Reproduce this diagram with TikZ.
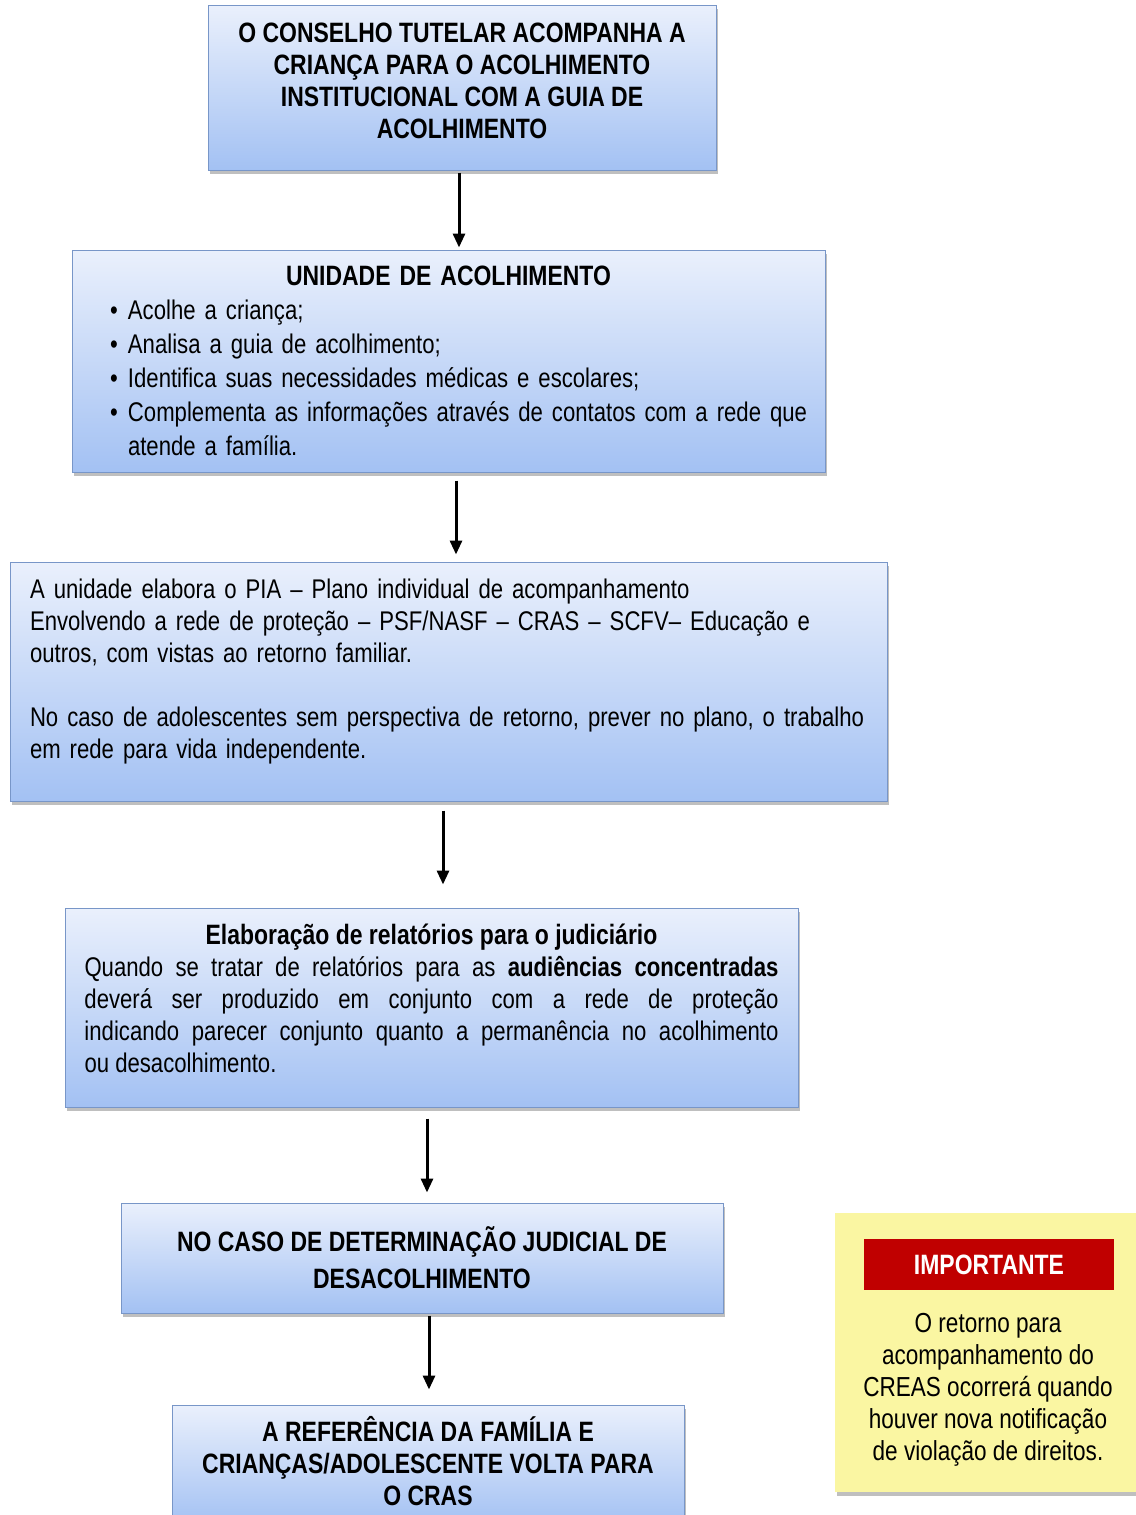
\documentclass[tikz,border=0pt]{standalone}
\usepackage{fontspec}
\setmainfont{Liberation Sans}[FakeStretch=0.82]
\usetikzlibrary{arrows.meta,shadows}

\definecolor{bordaazul}{RGB}{120,150,200}
\definecolor{azulclaro}{RGB}{234,240,252}
\definecolor{azulescuro}{RGB}{163,193,243}
\definecolor{amarelo}{RGB}{250,246,162}
\definecolor{vermelho}{RGB}{192,0,0}

\newcommand{\marcador}{\makebox[18pt][l]{\textbullet}}

\tikzset{
  caixa/.style={draw=bordaazul, line width=1pt, top color=azulclaro, bottom color=azulescuro,
    drop shadow={shadow xshift=2pt, shadow yshift=-4pt, opacity=.5}, inner sep=0pt,
    font=\fontsize{28}{32}\selectfont},
  seta/.style={line width=3pt, -{Triangle[length=14pt,width=12pt]}},
}

\begin{document}
\begin{tikzpicture}[x=1pt, y=-1pt]
        \useasboundingbox (0,0) rectangle (1135,1515);
        % caixas do fluxo
        \node[caixa, minimum width=508pt, minimum height=165pt, align=center] (conselho) at (462,87.5)
            {\bfseries O CONSELHO TUTELAR ACOMPANHA A\\ \bfseries CRIANÇA PARA O ACOLHIMENTO\\
             \bfseries INSTITUCIONAL COM A GUIA DE\\ \bfseries ACOLHIMENTO\\[-18pt]\mbox{}};
        \node[caixa, minimum height=222pt, text width=753pt, align=left,
              font=\fontsize{27}{34}\selectfont] (unidade) at (448.5,361)
            {\makebox[753pt]{\fontsize{28}{34}\selectfont\bfseries UNIDADE DE ACOLHIMENTO}\\
             \hspace*{38pt}\marcador Acolhe a criança;\\
             \hspace*{38pt}\marcador Analisa a guia de acolhimento;\\
             \hspace*{38pt}\marcador Identifica suas necessidades médicas e escolares;\\
             \hspace*{38pt}\marcador Complementa as informações através de contatos com a rede que\\
             \hspace*{56pt}atende a família.};
        \node[caixa, minimum height=239pt, text width=837pt, inner xsep=20pt, align=left,
              font=\fontsize{27}{32}\selectfont] (pia) at (448.5,681.5)
            {A unidade elabora o PIA – Plano individual de acompanhamento\\
             Envolvendo a rede de proteção – PSF/NASF – CRAS – SCFV– Educação e\\
             outros, com vistas ao retorno familiar.\\[32pt]
             No caso de adolescentes sem perspectiva de retorno, prever no plano, o trabalho\\
             em rede para vida independente.\\[-6pt] \mbox{}};
        \node[caixa, minimum height=199pt, text width=694pt, inner xsep=19.5pt, align=justify,
              font=\fontsize{27}{32}\selectfont] (relatorio) at (431.5,1007.5)
            {\makebox[694pt]{\fontsize{28}{32}\selectfont\bfseries Elaboração de relatórios para o judiciário}\\
             Quando se tratar de relatórios para as \textbf{audiências concentradas}\linebreak
             deverá ser produzido em conjunto com a rede de proteção\linebreak
             indicando parecer conjunto quanto a permanência no acolhimento\linebreak
             ou desacolhimento.\\[-14pt]\mbox{}};
        \node[caixa, minimum width=602pt, minimum height=110pt, align=center,
              font=\fontsize{28}{37}\selectfont] (desacolhimento) at (422,1258)
            {\bfseries NO CASO DE DETERMINAÇÃO JUDICIAL DE\\ \bfseries DESACOLHIMENTO};
        \node[caixa, minimum width=512pt, minimum height=120pt, align=center] (referencia) at (428,1465)
            {\bfseries A REFERÊNCIA DA FAMÍLIA E\\ \bfseries CRIANÇAS/ADOLESCENTE VOLTA PARA\\
             \bfseries O CRAS\\[-24pt]\mbox{}};
        % nota amarela
        \node[fill=amarelo, minimum width=305pt, minimum height=279pt,
              drop shadow={shadow xshift=2pt, shadow yshift=-4pt, opacity=.5}] (nota) at (987.5,1352.5) {};
        \node[fill=vermelho, text=white, minimum width=250pt, minimum height=51pt, inner sep=0pt,
              font=\fontsize{28}{32}\selectfont\bfseries] (importante) at (989,1264.5) {IMPORTANTE};
        \node[align=center, inner sep=0pt, font=\fontsize{27.5}{32}\selectfont] (aviso) at (988,1390)
            {O retorno para\\ acompanhamento do\\ CREAS ocorrerá quando\\ houver nova notificação\\
             de violação de direitos.};
        % setas
        \draw[seta, shorten <=2pt, shorten >=2pt]
            ([xshift=-3pt]conselho.south) -- ([xshift=-3pt]conselho.south |- unidade.north);
        \draw[seta, shorten <=8pt, shorten >=7pt]
            ([xshift=7.5pt]unidade.south) -- ([xshift=7.5pt]unidade.south |- pia.north);
        \draw[seta, shorten <=9pt, shorten >=23pt]
            ([xshift=-5.5pt]pia.south) -- ([xshift=-5.5pt]pia.south |- relatorio.north);
        \draw[seta, shorten <=11pt, shorten >=10pt]
            ([xshift=-4.5pt]relatorio.south) -- ([xshift=-4.5pt]relatorio.south |- desacolhimento.north);
        \draw[seta, shorten <=2pt, shorten >=15pt]
            ([xshift=7pt]desacolhimento.south) -- ([xshift=7pt]desacolhimento.south |- referencia.north);
\end{tikzpicture}
\end{document}
